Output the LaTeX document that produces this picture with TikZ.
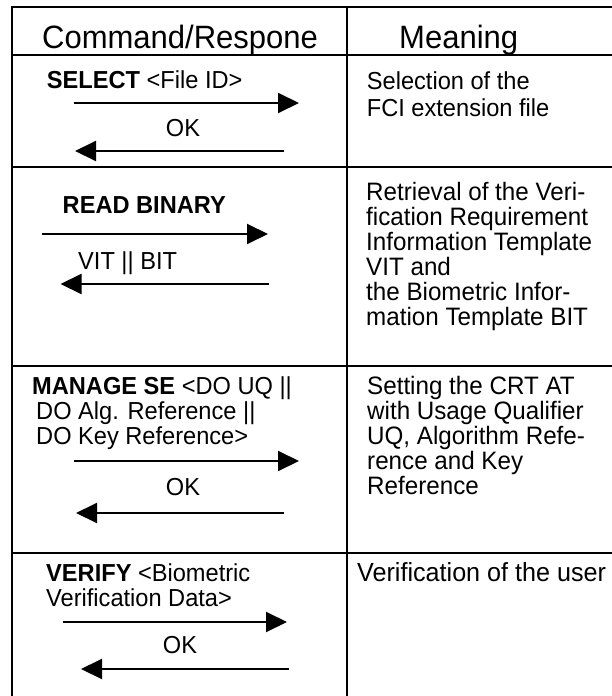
\documentclass[tikz,border=0pt]{standalone}
\usepackage{fontspec}
\setmainfont{Liberation Sans}[FakeStretch=0.96]
\usetikzlibrary{arrows.meta}
\begin{document}
\begin{tikzpicture}[x=1pt,y=-1pt,
  rule/.style={line width=2pt},
  body/.style={anchor=base west, inner sep=0pt, font=\fontsize{24.6}{25}\selectfont},
  bodyr/.style={anchor=base west, inner sep=0pt, font=\fontsize{25.2}{25}\selectfont},
  bodyw/.style={anchor=base west, inner sep=0pt, font=\fontsize{26.2}{26}\selectfont},
  head/.style={anchor=base west, inner sep=0pt, font=\fontsize{32.3}{34}\selectfont},
  oklabel/.style={anchor=base, inner sep=0pt, font=\fontsize{24.6}{25}\selectfont},
  msg/.style={line width=2pt, -{Triangle[length=21pt,width=20pt]}}]
\useasboundingbox (0,0) rectangle (612,696);
% table rules
\draw[rule] (11.5,7) -- (612,7);
\draw[rule] (11.5,55) -- (612,55);
\draw[rule] (11.5,167) -- (612,167);
\draw[rule] (11.5,365.5) -- (612,365.5);
\draw[rule] (11.5,552.5) -- (612,552.5);
\draw[rule] (11.5,6) -- (11.5,696);
\draw[rule] (347,6) -- (347,696);
% header
\node[head] (h1) at (42,48.3) {Command/Respone};
\node[head] (h2) at (399,48.3) {Meaning};
% row 1
\node[body] (c1) at (46.7,88.5) {\textbf{SELECT} <File ID>};
\coordinate (a1s) at (74,103); \coordinate (a1e) at (299,103);
\node[oklabel] (ok1) at (183,136) {OK};
\coordinate (b1s) at (284,151); \coordinate (b1e) at (75,151);
\draw[msg] (a1s) -- (a1e);
\draw[msg] (b1s) -- (b1e);
\node[body] (m1a) at (366.7,89.3) {Selection of the};
\node[body] (m1b) at (366.7,116) {FCI extension file};
% row 2
\node[body] (c2) at (62.5,213) {\textbf{READ BINARY}};
\coordinate (a2s) at (42,234); \coordinate (a2e) at (268,234);
\node[body] (r2) at (78,269) {VIT || BIT};
\coordinate (b2s) at (269,284); \coordinate (b2e) at (60.5,284);
\draw[msg] (a2s) -- (a2e);
\draw[msg] (b2s) -- (b2e);
\node[bodyr] (m2a) at (366,200.7) {Retrieval of the Veri-};
\node[bodyr] (m2b) at (366,225.6) {fication Requirement};
\node[bodyr] (m2c) at (366,250.5) {Information Template};
\node[bodyr] (m2d) at (366,275.4) {VIT and};
\node[bodyr] (m2e) at (366,300.3) {the Biometric Infor-};
\node[bodyr] (m2f) at (366,325.2) {mation Template BIT};
% row 3
\node[body] (c3a) at (32,394) {\textbf{MANAGE SE} <DO UQ ||};
\node[body] (c3b) at (36,419) {DO Alg. Reference ||};
\node[body] (c3c) at (36,444) {DO Key Reference>};
\coordinate (a3s) at (74,461); \coordinate (a3e) at (299,461);
\node[oklabel] (ok3) at (183,495) {OK};
\coordinate (b3s) at (284,513); \coordinate (b3e) at (76,513);
\draw[msg] (a3s) -- (a3e);
\draw[msg] (b3s) -- (b3e);
\node[bodyr] (m3a) at (367,394) {Setting the CRT AT};
\node[bodyr] (m3b) at (367,419) {with Usage Qualifier};
\node[bodyr] (m3c) at (367,444) {UQ, Algorithm Refe-};
\node[bodyr] (m3d) at (367,469) {rence and Key};
\node[bodyr] (m3e) at (367,494) {Reference};
% row 4
\node[body] (c4a) at (46,581) {\textbf{VERIFY} <Biometric};
\node[body] (c4b) at (46,606) {Verification Data>};
\coordinate (a4s) at (63,622); \coordinate (a4e) at (287,622);
\node[oklabel] (ok4) at (180,653) {OK};
\coordinate (b4s) at (289,669); \coordinate (b4e) at (81,669);
\draw[msg] (a4s) -- (a4e);
\draw[msg] (b4s) -- (b4e);
\node[bodyw] (m4a) at (357,581) {Verification of the user};
\end{tikzpicture}
\end{document}
